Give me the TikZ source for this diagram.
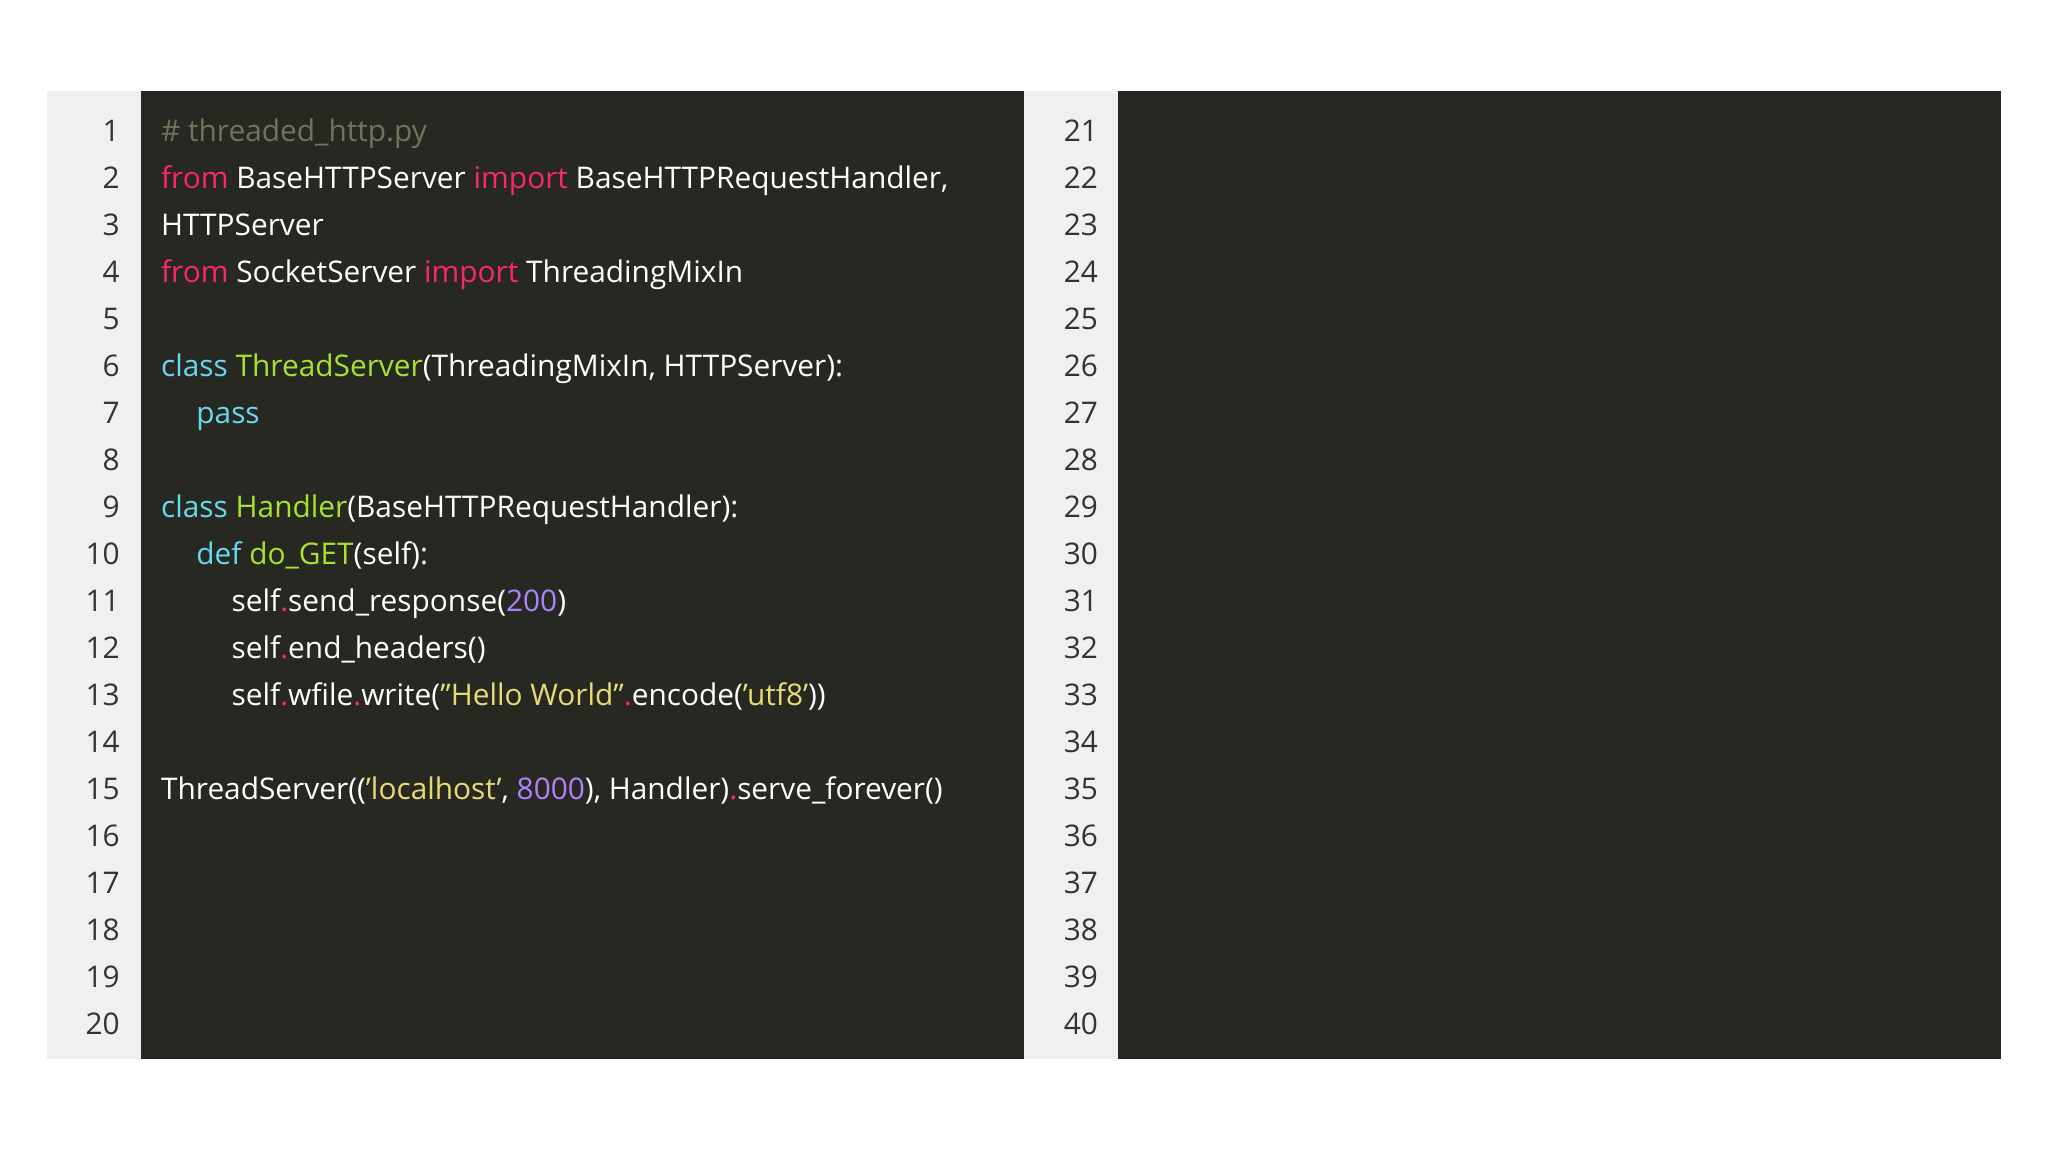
\documentclass[tikz,border=0pt]{standalone}
\usepackage{fontspec}
\setmainfont{Open Sans}
\definecolor{bgdark}{HTML}{272822}
\definecolor{gut}{HTML}{F0F0F0}
\definecolor{cm}{HTML}{75715E}
\definecolor{kw}{HTML}{F92672}
\definecolor{cy}{HTML}{66D9EF}
\definecolor{gr}{HTML}{A6E22E}
\definecolor{nu}{HTML}{AE81FF}
\definecolor{st}{HTML}{E6DB74}
\definecolor{ln}{HTML}{333333}
\newcommand{\Kw}[1]{\textcolor{kw}{#1}}
\newcommand{\Cy}[1]{\textcolor{cy}{#1}}
\newcommand{\Gr}[1]{\textcolor{gr}{#1}}
\newcommand{\Nu}[1]{\textcolor{nu}{#1}}
\newcommand{\St}[1]{\textcolor{st}{#1}}
\newcommand{\Dt}{\textcolor{kw}{.}}
\begin{document}
\begin{tikzpicture}[x=0.02cm,y=-0.02cm,
  code/.style={anchor=base west,inner sep=0,text=white,font=\fontsize{13}{13}\selectfont},
  num/.style={anchor=base east,inner sep=0,text=ln,font=\fontsize{13}{13}\selectfont}]
\useasboundingbox (0,0) rectangle (1568,882);
\fill[white] (0,0) rectangle (1568,882);
\fill[gut] (36,70) rectangle (108,811);
\fill[bgdark] (108,70) rectangle (784,811);
\fill[gut] (784,70) rectangle (856,811);
\fill[bgdark] (856,70) rectangle (1532,811);
\foreach \i in {1,...,20}{
  \node[num] (n\i) at (92,{100+36*(\i-1)+8}) {\i};
  \pgfmathtruncatemacro{\j}{\i+20}
  \node[num] (m\i) at (841,{100+36*(\i-1)+8}) {\j};
}
\node[code] (c1) at (123,{100+8}) {\textcolor{cm}{\# threaded\_http.py}};
\node[code] (c2) at (123,{136+8}) {\Kw{from} BaseHTTPServer \Kw{import} BaseHTTPRequestHandler,};
\node[code] (c3) at (123,{172+8}) {HTTPServer};
\node[code] (c4) at (123,{208+8}) {\Kw{from} SocketServer \Kw{import} ThreadingMixIn};
\node[code] (c6) at (123,{280+8}) {\Cy{class} \Gr{ThreadServer}(ThreadingMixIn, HTTPServer):};
\node[code] (c7) at (150,{316+8}) {\Cy{pass}};
\node[code] (c9) at (123,{388+8}) {\Cy{class} \Gr{Handler}(BaseHTTPRequestHandler):};
\node[code] (c10) at (150,{424+8}) {\Cy{def} \Gr{do\_GET}(self):};
\node[code] (c11) at (177,{460+8}) {self\Dt send\_response(\Nu{200})};
\node[code] (c12) at (177,{496+8}) {self\Dt end\_headers()};
\node[code] (c13) at (177,{532+8}) {self\Dt wfile\Dt write(\St{"Hello World"}\Dt encode(\St{'utf8'}))};
\node[code] (c15) at (123,{604+8}) {ThreadServer((\St{'localhost'}, \Nu{8000}), Handler)\Dt serve\_forever()};
\end{tikzpicture}
\end{document}
